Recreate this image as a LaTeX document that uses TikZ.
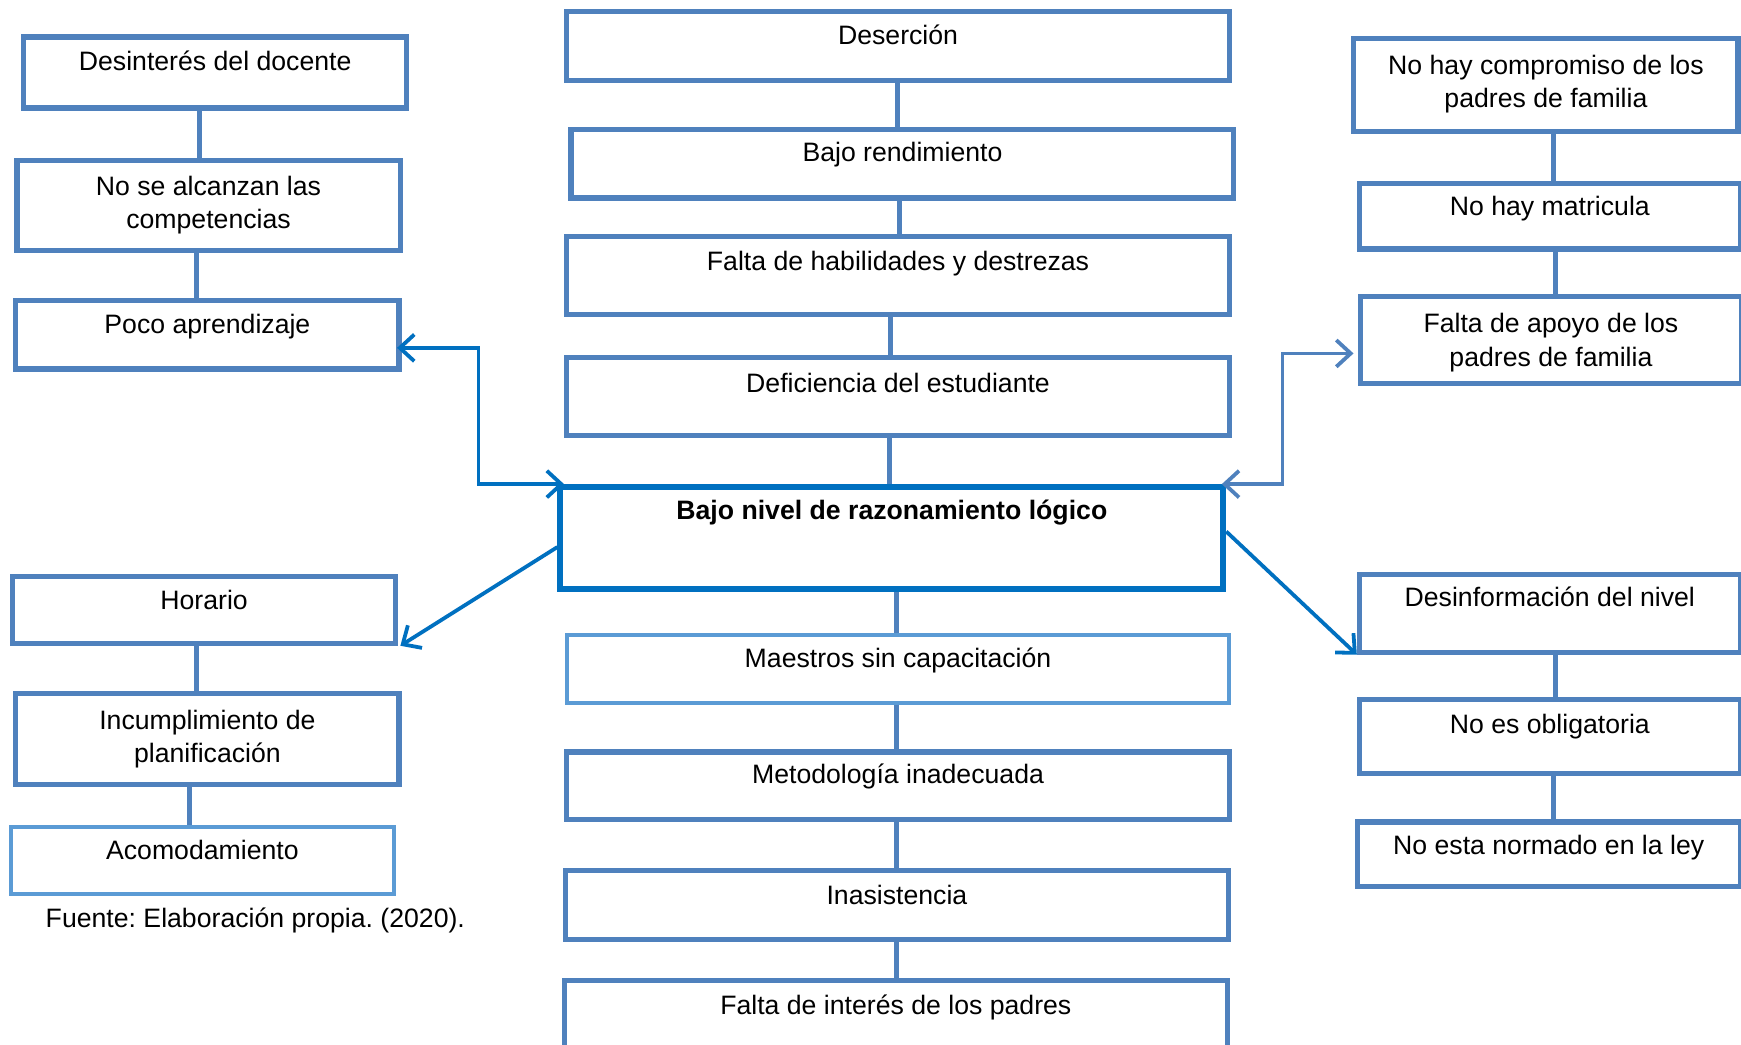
\documentclass[tikz,border=0pt]{standalone}
\usepackage{fontspec}
\setmainfont{Liberation Sans}
\frenchspacing
\usetikzlibrary{arrows.meta}
\definecolor{boxblue}{HTML}{4F81BD}
\definecolor{lightblue}{HTML}{5B9BD5}
\definecolor{strongblue}{HTML}{0070C0}
\begin{document}
\begin{tikzpicture}[x=1pt,y=-1pt,
  box/.style={draw=boxblue,line width=4.6pt,minimum width=#1,anchor=north west,inner sep=0pt,fill=white},
  box/.default=345pt,
  lbox/.style={box=#1,draw=lightblue,line width=3.6pt},
  lbox/.default=345pt,
  cbox/.style={draw=strongblue,line width=5.4pt,minimum width=597pt,anchor=north west,inner sep=0pt,fill=white},
  txt/.style={font=\fontsize{24}{30}\selectfont,text height=1.4em,text depth=0.1em,inner sep=0pt},
  txt2/.style={font=\fontsize{24}{30}\selectfont,align=center,inner sep=0pt},
  link/.style={draw=boxblue,line width=4.6pt},
  arr/.style={draw=strongblue,line width=3.4pt,-{Straight Barb[length=13pt,width=24pt,line width=3.4pt]}},
  darr/.style={draw=strongblue,line width=3.4pt,{Straight Barb[length=13pt,width=24pt,line width=3.4pt]}-{Straight Barb[length=13pt,width=24pt,line width=3.4pt]}},
  darrb/.style={darr,draw=boxblue}
]
\useasboundingbox (0,0) rectangle (1568,941);
\fill[white] (0,0) rectangle (1568,941);

% ---------- left column ----------
\node[box,minimum height=64pt] (l1) at (19,31) {};
\node[txt] at (l1.north |- 0,57) {Desinterés del docente};
\node[box,minimum height=81pt] (l2) at (13,142) {};
\node[txt2] at (l2.north |- 0,184.5) {No se alcanzan las\\competencias};
\node[box,minimum height=62pt] (l3) at (12,268) {};
\node[txt] at (l3.north |- 0,294) {Poco aprendizaje};

\node[box,minimum height=60pt] (l4) at (9,517) {};
\node[txt] at (l4.north |- 0,542) {Horario};
\node[box,minimum height=82pt] (l5) at (12,622) {};
\node[txt2] at (l5.north |- 0,665.5) {Incumplimiento de\\planificación};
\node[lbox,minimum height=60pt] (l6) at (8,743) {};
\node[txt] at (l6.north |- 0,768) {Acomodamiento};
\node[txt,anchor=west] (src) at (41,829) {Fuente: Elaboración propia. (2020).};

\draw[link] ([xshift=-14pt]l1.south) -- ([xshift=-14pt]l1.south |- l2.north);
\draw[link] ([xshift=-11pt]l2.south) -- ([xshift=-11pt]l2.south |- l3.north);
\draw[link] ([xshift=-7pt]l4.south) -- ([xshift=-7pt]l4.south |- l5.north);
\draw[link] ([xshift=-16pt]l5.south) -- ([xshift=-16pt]l5.south |- l6.north);

% ---------- centre column ----------
\node[box=597pt,minimum height=62pt] (c1) at (508,8) {};
\node[txt] at (c1.north |- 0,34) {Deserción};
\node[box=597pt,minimum height=62pt] (c2) at (512,114) {};
\node[txt] at (c2.north |- 0,139) {Bajo rendimiento};
\node[box=597pt,minimum height=70pt] (c3) at (508,211) {};
\node[txt] at (c3.north |- 0,237) {Falta de habilidades y destrezas};
\node[box=597pt,minimum height=70pt] (c4) at (508,320) {};
\node[txt] at (c4.north |- 0,347) {Deficiencia del estudiante};
\node[cbox,minimum height=92pt] (core) at (502,436) {};
\node[txt,font=\fontsize{24}{30}\selectfont\bfseries] at (core.north |- 0,461) {Bajo nivel de razonamiento lógico};
\node[lbox=596pt,minimum height=61pt] (c5) at (509,570) {};
\node[txt] at (c5.north |- 0,595) {Maestros sin capacitación};
\node[box=597pt,minimum height=61pt] (c6) at (508,675) {};
\node[txt] at (c6.north |- 0,699) {Metodología inadecuada};
\node[box=597pt,minimum height=62pt] (c7) at (507,782) {};
\node[txt] at (c7.north |- 0,808) {Inasistencia};
\node[box=597pt,minimum height=80pt] (c8) at (506,881) {};
\node[txt] at (c8.north |- 0,907) {Falta de interés de los padres};

\draw[link] ([xshift=-0.5pt]c1.south) -- ([xshift=-0.5pt]c1.south |- c2.north);
\draw[link] ([xshift=-2.5pt]c2.south) -- ([xshift=-2.5pt]c2.south |- c3.north);
\draw[link] ([xshift=-6.5pt]c3.south) -- ([xshift=-6.5pt]c3.south |- c4.north);
\draw[link] ([xshift=-7.5pt]c4.south) -- ([xshift=-7.5pt]c4.south |- core.north);
\draw[link] ([xshift=4.5pt]core.south) -- ([xshift=4.5pt]core.south |- c5.north);
\draw[link] ([xshift=-1.5pt]c5.south) -- ([xshift=-1.5pt]c5.south |- c6.north);
\draw[link] ([xshift=-1.5pt]c6.south) -- ([xshift=-1.5pt]c6.south |- c7.north);
\draw[link] ([xshift=-0.5pt]c7.south) -- ([xshift=-0.5pt]c7.south |- c8.north);

% ---------- right column ----------
\node[box=346pt,minimum height=84pt] (r1) at (1217,32) {};
\node[txt2] at (r1.north |- 0,75.5) {No hay compromiso de los\\padres de familia};
\node[box=343pt,minimum height=59pt] (r2) at (1222,163) {};
\node[txt] at (r2.north |- 0,188) {No hay matricula};
\node[box=343pt,minimum height=78pt] (r3) at (1223,265) {};
\node[txt2] at (r3.north |- 0,308.5) {Falta de apoyo de los\\padres de familia};

\node[box=343pt,minimum height=70pt] (r4) at (1222,515) {};
\node[txt] at (r4.north |- 0,540) {Desinformación del nivel};
\node[box=343pt,minimum height=66pt] (r5) at (1222,628) {};
\node[txt] at (r5.north |- 0,654) {No es obligatoria};
\node[box=345pt,minimum height=58pt] (r6) at (1220,738) {};
\node[txt] at (r6.north |- 0,763) {No esta normado en la ley};

\draw[link] ([xshift=7pt]r1.south) -- ([xshift=7pt]r1.south |- r2.north);
\draw[link] ([xshift=5.5pt]r2.south) -- ([xshift=5.5pt]r2.south |- r3.north);
\draw[link] ([xshift=5.5pt]r4.south) -- ([xshift=5.5pt]r4.south |- r5.north);
\draw[link] ([xshift=3.5pt]r5.south) -- ([xshift=3.5pt]r5.south |- r6.north);

% ---------- arrows from the core problem ----------
\coordinate (pl) at ([yshift=-12pt]l3.east);
\coordinate (pr) at ([yshift=-12pt]r3.west);
\draw[darr] ([xshift=6pt]core.north west) -| (431,0 |- pl) -- ([xshift=-4pt]pl);
\draw[darrb] ([xshift=-4pt]core.north east) -| (1155,0 |- pr) -- ([xshift=-4pt]pr);
\draw[arr] ([yshift=-8pt]core.west) -- ([xshift=2pt]l4.south east);
\draw[arr] ([yshift=6pt]core.east) -- (r4.south west);
\end{tikzpicture}
\end{document}
